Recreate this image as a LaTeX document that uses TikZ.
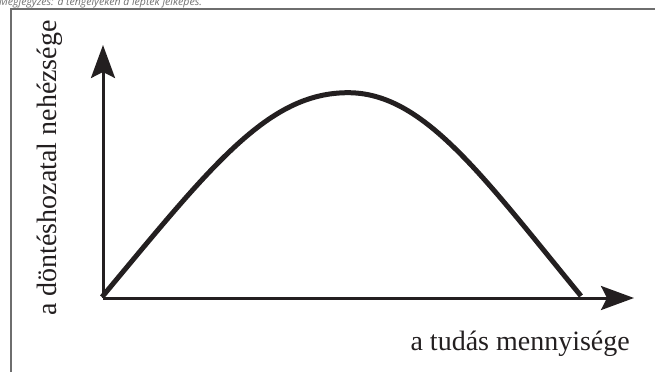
\documentclass[tikz,border=0pt]{standalone}
\usepackage{fontspec}
\setmainfont{Liberation Serif}
\newfontfamily\notefont{Open Sans}
\usetikzlibrary{arrows.meta}
\definecolor{ink}{HTML}{231F20}
\definecolor{framegray}{HTML}{6E6E6E}
\definecolor{notegray}{HTML}{707070}
\tikzset{
  axis/.style={draw=ink, line width=3pt, -{Stealth[length=33pt, width=24pt, inset=6pt]}},
  curve/.style={draw=ink, line width=5pt},
  frameline/.style={draw=framegray, line width=1.3pt},
  axlabel/.style={font=\rmfamily\fontsize{28}{30}\selectfont, text=ink, inner sep=0pt},
  notetext/.style={font=\notefont\itshape\fontsize{10.5}{12}\selectfont, text=notegray, inner sep=0pt, anchor=base west}
}
\begin{document}
\begin{tikzpicture}[x=1pt, y=-1pt]
  \useasboundingbox (0,0) rectangle (655,372);
  \begin{scope}
    \clip (0,0) rectangle (655,372);
    \node[notetext] (note) at (-1,5.5) {Megjegyzés: a tengelyeken a lépték jelképes.};
  \end{scope}
  % frame
  \coordinate (fbl) at (11,372);
  \coordinate (ftl) at (11,9);
  \coordinate (ftr) at (655,9);
  \draw[frameline] (fbl) -- (ftl) -- (ftr);
  % axes
  \coordinate (O) at (103,298);
  \coordinate (Ytip) at (103,45);
  \coordinate (Xtip) at (634,298);
  \draw[axis] (O) -- (Ytip);
  \draw[axis] (O) -- (Xtip);
  % curve
  \coordinate (start) at (102,297);
  \coordinate (peak) at (348,92.7);
  \coordinate (end) at (581,296);
  \draw[curve] (start) .. controls (212,165) and (268,92.7) .. (peak)
                       .. controls (423,92.7) and (481,174) .. (end);
  % labels
  \node[axlabel, anchor=base east] (xlab) at (630,350) {a tudás mennyisége};
  \node[axlabel, anchor=base west, rotate=90] (ylab) at (56,316) {a döntéshozatal nehézsége};
\end{tikzpicture}
\end{document}
